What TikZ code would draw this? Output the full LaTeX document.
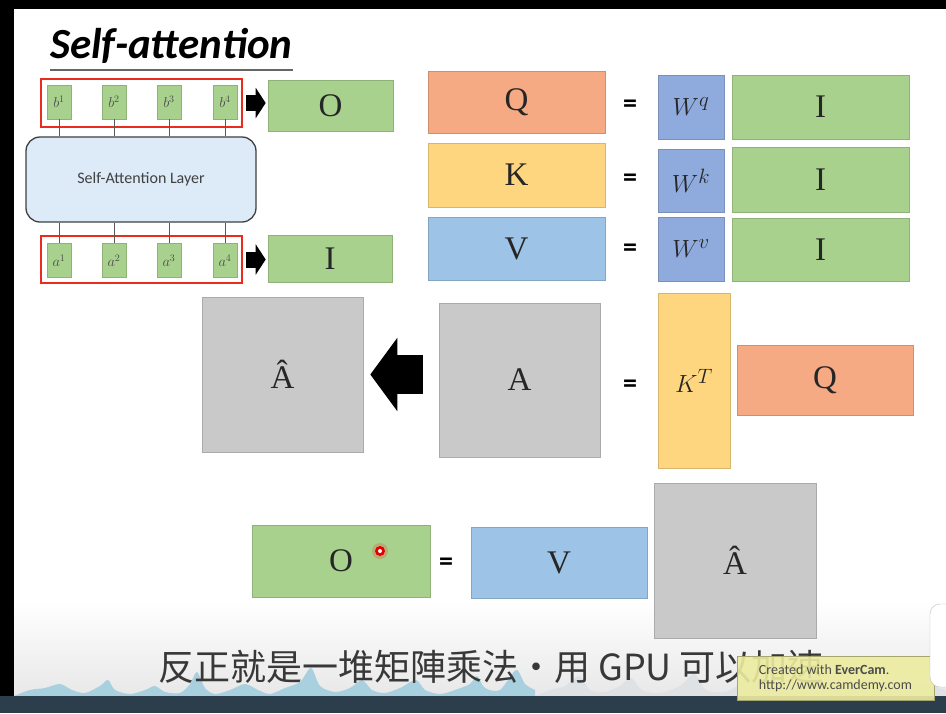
\documentclass[tikz,border=0pt]{standalone}
\usepackage{fontspec}
\newfontfamily\calibri{Carlito}
\newfontfamily\cjk{Noto Sans CJK TC}
\newfontfamily\lserif{Liberation Serif}
\usetikzlibrary{arrows.meta,calc}
\definecolor{qcol}{RGB}{245,170,132}
\definecolor{kcol}{RGB}{255,214,128}
\definecolor{vcol}{RGB}{157,195,230}
\definecolor{wcol}{RGB}{143,170,220}
\definecolor{grn}{RGB}{169,209,142}
\definecolor{gry}{RGB}{201,201,201}
\definecolor{layerc}{RGB}{221,234,248}
\definecolor{redc}{RGB}{232,45,30}
\definecolor{wavec}{RGB}{168,208,222}
\definecolor{wavel}{RGB}{222,226,229}
\definecolor{stripc}{RGB}{44,62,76}
\definecolor{wmark}{RGB}{236,236,160}
\begin{document}
\begin{tikzpicture}[x=1pt,y=-1pt,
  mat/.style={fill=#1, draw=#1!85!black, line width=0.6pt, inner sep=0pt,
    font=\lserif\fontsize{33}{33}\selectfont, text=black!85},
  sq/.style={fill=grn, draw=grn!85!black, line width=0.4pt, minimum width=24pt,
    minimum height=34pt, inner sep=0pt, font=\fontsize{14}{14}\selectfont, text=black!70},
  eqs/.style={font=\calibri\bfseries\fontsize{28}{28}\selectfont, inner sep=0pt},
  redbox/.style={draw=redc, line width=2.6pt, inner sep=0pt},
  conn/.style={draw=black!65, line width=0.8pt},
  fat/.style={line width=#1, black},
]
\useasboundingbox (0,0) rectangle (946,713);
\clip (0,0) rectangle (946,713);
% background
\fill[white] (0,0) rectangle (946,713);
\shade[top color=white, bottom color=black!9] (0,600) rectangle (946,696);
% waveform
\fill[wavec] plot[smooth] coordinates {(14,696) (30,690) (45,688) (60,684) (72,690) (85,693) (100,686) (108,680) (115,690) (130,694) (145,690) (155,686) (165,692) (180,693) (190,684) (197,672) (205,688) (215,694) (230,690) (245,684) (258,690) (270,694) (285,688) (300,682) (311,668) (320,686) (335,692) (350,688) (362,680) (372,690) (385,693) (400,688) (416,680) (425,690) (440,694) (455,690) (470,684) (477,676) (485,688) (500,690) (516,670) (525,684) (535,690)} -- (535,696) -- cycle;
\fill[wavel] plot[smooth] coordinates {(535,696) (550,690) (565,686) (579,676) (590,690) (605,692) (620,686) (631,678) (642,690) (660,693) (680,686) (694,674) (706,690) (725,692) (740,684) (748,674) (758,690) (780,693) (795,684) (803,676) (812,690) (830,692) (850,686) (865,680) (880,690) (900,692) (920,684) (946,690)} -- (946,696) -- cycle;
\fill[stripc] (0,696) rectangle (946,713);
% black frame
\fill[black] (0,0) rectangle (946,9);
\fill[black] (0,0) rectangle (14,696);
% title
\node[anchor=base west, inner sep=0pt, font=\calibri\bfseries\itshape\fontsize{43}{43}\selectfont] (title) at (50,58) {Self-attention};
\draw[black!60, line width=1.4pt] ($(title.base west)+(0,12)$) -- ($(title.base east)+(0,12)$);
% left: self-attention layer
\node[draw=black!75, fill=layerc, line width=1.3pt, rounded corners=14pt, minimum width=230pt, minimum height=85pt, inner sep=0pt,
  font=\calibri\fontsize{16}{16}\selectfont, text=black!75] (layer) at (141,179.5) {Self-Attention Layer};
\node[redbox, minimum width=201pt, minimum height=48pt] (rbt) at (141.5,103) {};
\node[redbox, minimum width=201pt, minimum height=47pt] (rbb) at (141.5,259.5) {};
\foreach \i/\x in {1/59,2/114,3/169,4/225}{
  \node[sq] (b\i) at (\x,102) {$b^{\i}$};
  \node[sq] (a\i) at (\x,260.5) {$a^{\i}$};
  \draw[conn] (b\i.south) -- (b\i.south |- layer.north);
  \draw[conn] (a\i.north) -- (a\i.north |- layer.south);
}
\node[mat=grn, minimum width=125pt, minimum height=51pt] (O1) at (330.5,105.5) {O};
\node[mat=grn, minimum width=124pt, minimum height=47pt] (I0) at (330,258.5) {I};
\draw[fat=16pt, -{Triangle[length=10pt,width=30pt]}, shorten <=3pt, shorten >=2pt] (rbt.east) -- (rbt.east -| O1.west);
\draw[fat=16pt, -{Triangle[length=10pt,width=30pt]}, shorten <=3pt, shorten >=2pt] (rbb.east) -- (rbb.east -| I0.west);
% Q K V rows
\node[mat=qcol, minimum width=177pt, minimum height=62pt] (Q1) at (516.5,102.5) {Q};
\node[mat=kcol, minimum width=177pt, minimum height=64pt] (K1) at (516.5,175) {K};
\node[mat=vcol, minimum width=177pt, minimum height=63pt] (V1) at (516.5,248.5) {V};
\node[eqs] (e1) at (630,106) {=};
\node[eqs] (e2) at (630,180) {=};
\node[eqs] (e3) at (630,250) {=};
\node[mat=wcol, minimum width=66pt, minimum height=64pt, font=\fontsize{30}{30}\selectfont] (Wq) at (691,107) {$W^q$};
\node[mat=wcol, minimum width=66pt, minimum height=63pt, font=\fontsize{30}{30}\selectfont] (Wk) at (691,180.5) {$W^k$};
\node[mat=wcol, minimum width=66pt, minimum height=64pt, font=\fontsize{30}{30}\selectfont] (Wv) at (691,249) {$W^v$};
\node[mat=grn, minimum width=177pt, minimum height=64pt] (I1) at (820.5,107) {I};
\node[mat=grn, minimum width=177pt, minimum height=65pt] (I2) at (820.5,179.5) {I};
\node[mat=grn, minimum width=177pt, minimum height=63pt] (I3) at (820.5,249.5) {I};
% A row
\node[mat=gry, minimum width=161pt, minimum height=155pt] (Ah) at (282.5,374.5) {\^{A}};
\node[mat=gry, minimum width=161pt, minimum height=154pt] (A) at (519.5,380) {A};
\draw[fat=39pt, -{Triangle[length=27pt,width=72pt]}, shorten <=16pt, shorten >=7pt] (Ah.east -| A.west) -- (Ah.east);
\node[eqs] (e4) at (630,386) {=};
\node[mat=kcol, minimum width=72pt, minimum height=175pt, font=\fontsize{32}{32}\selectfont] (KT) at (694,380.5) {$K^T$};
\node[mat=qcol, minimum width=176pt, minimum height=70pt] (Q2) at (825,380) {Q};
% O row
\node[mat=grn, minimum width=178pt, minimum height=72pt] (O2) at (341,561) {O};
\node[eqs] (e5) at (446,564) {=};
\node[mat=vcol, minimum width=176pt, minimum height=71pt] (V2) at (559,562.5) {V};
\node[mat=gry, minimum width=162pt, minimum height=155pt] (Ah2) at (735,560.5) {\^{A}};
% cursor dot
\fill[red, opacity=0.18] (380,551) circle (8);
\fill[red!90!black] (380,551) circle (5);
\fill[white] (380,551) circle (2);
% subtitle
\node[anchor=west, inner sep=0pt, text=black!78, font=\cjk\fontsize{36}{36}\selectfont] (sub) at (158,667) {反正就是一堆矩陣乘法・用 GPU 可以加速};
% watermark
\node[draw=wmark!70!black, fill=wmark, fill opacity=0.9, text opacity=1, minimum width=197pt, minimum height=44pt, inner sep=0pt,
  align=left, text=black!70, font=\calibri\fontsize{14}{15}\selectfont] (wm) at (835.5,678) {Created with \textbf{EverCam}.\\ http://www.camdemy.com};
% side widget
\draw[black!25, fill=white, rounded corners=10pt] (930,604) rectangle (975,687);
\end{tikzpicture}
\end{document}
